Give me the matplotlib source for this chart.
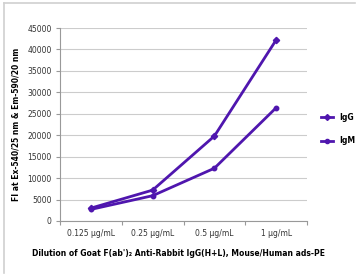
import matplotlib
matplotlib.use("Agg")
import matplotlib.pyplot as plt
from matplotlib.lines import Line2D

categories = ["0.125 µg/mL", "0.25 µg/mL", "0.5 µg/mL", "1 µg/mL"]
igg = [3000, 7200, 19800, 42200]
igm = [2700, 5900, 12300, 26400]
yticks = list(range(0, 45001, 5000))

W, H = 358, 277
fig = plt.figure(figsize=(W/100, H/100), dpi=100)
color = "#4f16ae"

ax = fig.add_axes([60/W, 1-221/H, (307-60)/W, (221-28)/H])
x = list(range(len(categories)))
ax.plot(x, igg, color=color, lw=2, marker="D", ms=3.2, label="IgG")
ax.plot(x, igm, color=color, lw=2, marker="o", ms=3.2, label="IgM")
ax.set_xlim(-0.5, len(categories)-0.5)
ax.set_ylim(0, 45000)
ax.set_yticks(yticks)
ax.set_yticklabels([str(v) for v in yticks], fontsize=5.5, color="#333333")
ax.set_xticks(x)
ax.set_xticklabels(categories, fontsize=5.5, color="#333333")
ax.tick_params(axis="x", length=0, pad=6)
ax.set_xticks([i-0.5 for i in range(len(categories)+1)], minor=True)
ax.tick_params(axis="x", which="minor", length=3, color="#999999", width=0.8)
ax.tick_params(axis="y", length=3, color="#999999", width=0.8, pad=3)
ax.yaxis.grid(True, color="#cccccc", lw=0.8)
ax.set_axisbelow(True)
for s in ["top", "right"]:
    ax.spines[s].set_visible(False)
ax.spines["left"].set_color("#999999")
ax.spines["bottom"].set_color("#999999")
ax.spines["left"].set_linewidth(0.8)
ax.spines["bottom"].set_linewidth(0.8)
ax.set_ylabel("FI at Ex-540/25 nm & Em-590/20 nm", fontsize=5.5, fontweight="bold", labelpad=5)
ax.set_xlabel("Dilution of Goat F(ab')\u2082 Anti-Rabbit IgG(H+L), Mouse/Human ads-PE",
              fontsize=5.5, fontweight="bold", labelpad=8, x=0.48)

handles = [Line2D([0], [0], color=color, lw=2, marker="D", ms=3),
           Line2D([0], [0], color=color, lw=2, marker="o", ms=3)]
fig.legend(handles, ["IgG", "IgM"], loc="center left", bbox_to_anchor=(314/W, 1-129/H),
           frameon=False, handlelength=1.6, labelspacing=1.9,
           prop={"weight": "bold", "size": 5.5})

fig.add_artist(Line2D([4/W, 355/W], [1-3/H, 1-3/H], color="#d0d0d0", lw=1.2))
fig.add_artist(Line2D([4/W, 4/W], [1-3/H, 1-273/H], color="#d0d0d0", lw=1.2))

fig.savefig("out.png", dpi=100)
